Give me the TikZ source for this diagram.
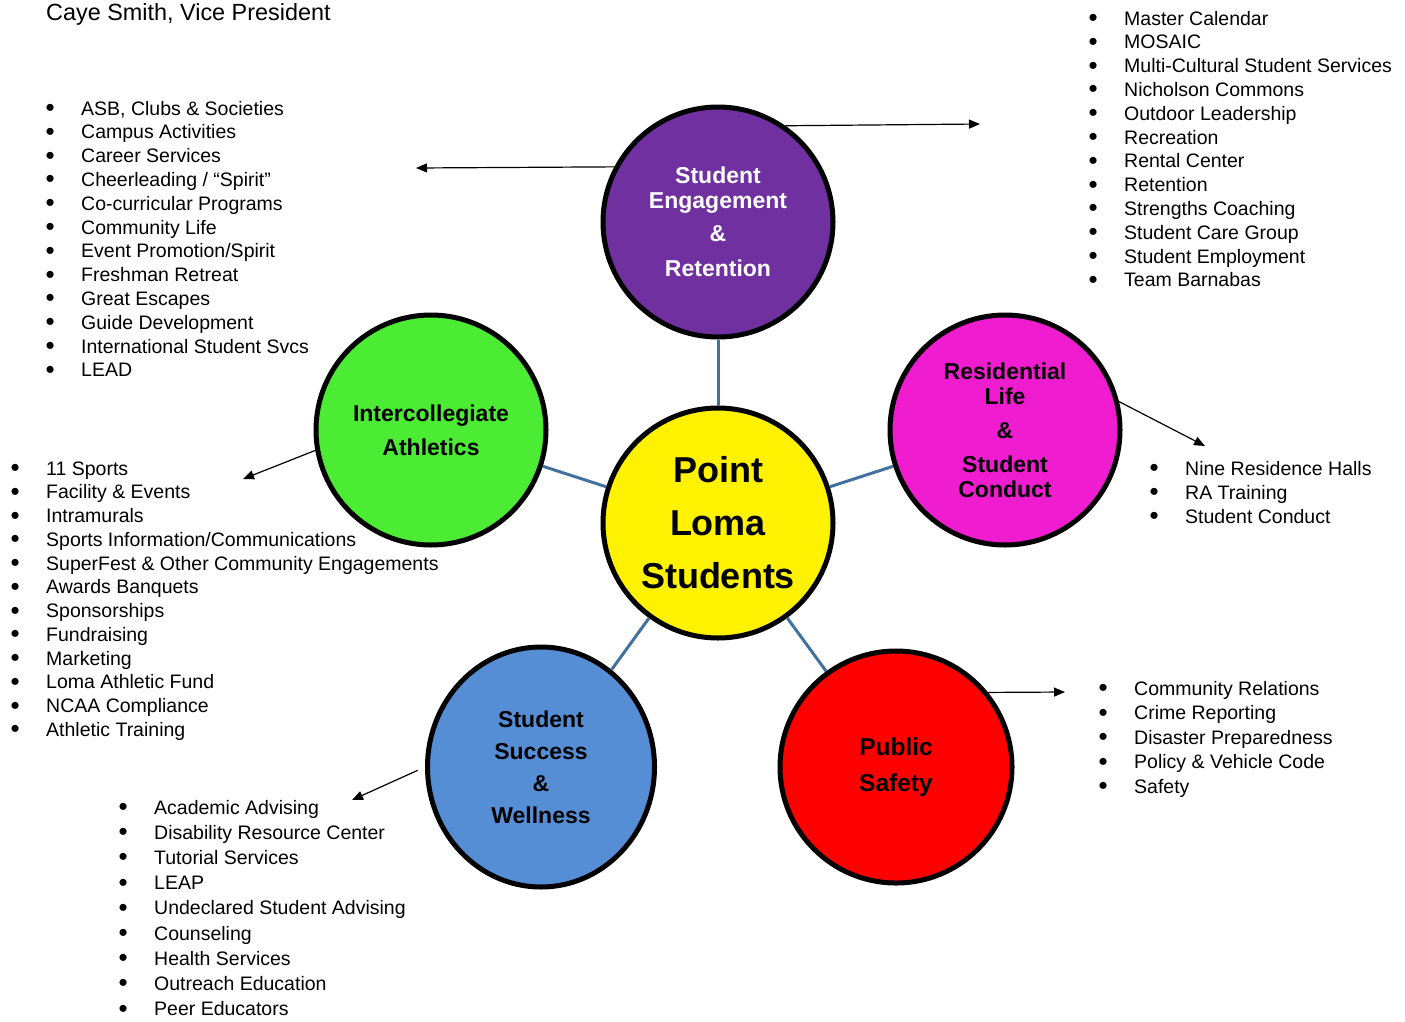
\documentclass[tikz,border=0pt]{standalone}
\usepackage{fontspec}
\setmainfont{Liberation Sans}
\usepackage{tikz}
\usetikzlibrary{arrows.meta,shapes.geometric}

\definecolor{serpurple}{RGB}{112,48,160}
\definecolor{athgreen}{RGB}{76,235,52}
\definecolor{resmagenta}{RGB}{240,28,208}
\definecolor{sucblue}{RGB}{85,142,213}
\definecolor{linkblue}{RGB}{65,113,156}

\newcommand{\bul}{\llap{\makebox[35.5pt][l]{\raisebox{-1.5pt}{\fontsize{26}{26}\selectfont •}}}}

\begin{document}
\begin{tikzpicture}[x=1pt,y=-1pt]
    \useasboundingbox (0,0) rectangle (1405,1021);

    \tikzstyle{unit} = [circle, draw=black, line width=5pt, minimum size=230pt, inner sep=0pt, align=center, font=\fontsize{23}{25}\selectfont\bfseries]
    \tikzstyle{link} = [draw=linkblue, line width=3pt]
    \tikzstyle{arr} = [-{Triangle[length=11pt,width=9pt]}, line width=1.2pt]
    \tikzstyle{item} = [anchor=base west, inner sep=0pt, font=\fontsize{19.5}{23}\selectfont]

    \node[anchor=base west, inner sep=0pt, font=\fontsize{23.4}{26}\selectfont] (vp) at (46,20) {Caye Smith, Vice President};

    % the six circles
    \node[unit, fill=yellow, font=\fontsize{36}{40}\selectfont\bfseries] (pls) at (718,523) {Point\\[13pt]Loma\\[13pt]Students};
    \node[unit, fill=serpurple, text=white] (ser) at (718,222) {Student\\Engagement\\[8pt]\&\\[10pt]Retention};
    \node[unit, fill=athgreen] (ath) at (431,430) {Intercollegiate\\[9pt]Athletics};
    \node[unit, fill=resmagenta] (res) at (1005,430) {Residential\\Life\\[9pt]\&\\[9pt]Student\\Conduct};
    \node[unit, shape=ellipse, fill=sucblue, minimum width=227pt, minimum height=240pt] (suc) at (541,767) {Student\\[7pt]Success\\[7pt]\&\\[7pt]Wellness};
    \node[unit, fill=red, minimum size=232pt, font=\fontsize{24.5}{27}\selectfont\bfseries] (pub) at (896,767) {Public\\[9pt]Safety};

    \foreach \o in {ser,ath,res,suc,pub}
        \draw[link] (pls) -- (\o);

    % arrows out to the lists
    \coordinate (serL) at (416,168);
    \coordinate (serR) at (980,124);
    \coordinate (athL) at (243,479);
    \coordinate (resR) at (1205,446);
    \coordinate (sucL) at (352,800);
    \coordinate (pubR) at (1065,692);

    \draw[arr] (ser.152) -- (serL);
    \draw[arr] (ser.55) -- (serR);
    \draw[arr] (ath.190) -- (athL);
    \draw[arr] (res.14) -- (resR);
    \draw[arr, shorten <=8pt] (suc.west) -- (sucL);
    \draw[arr] (pub.39) -- (pubR);

    % lists
    \foreach \t [count=\i from 0] in {{ASB, Clubs \& Societies}, Campus Activities, Career Services, Cheerleading / “Spirit”, Co-curricular Programs, Community Life, Event Promotion/Spirit, Freshman Retreat, Great Escapes, Guide Development, International Student Svcs, LEAD}
        \node[item] (serA\i) at (81,115+23.8*\i) {\bul\t};

    \foreach \t [count=\i from 0] in {Master Calendar, MOSAIC, Multi-Cultural Student Services, Nicholson Commons, Outdoor Leadership, Recreation, Rental Center, Retention, Strengths Coaching, Student Care Group, Student Employment, Team Barnabas}
        \node[item] (serB\i) at (1124,25+23.8*\i) {\bul\t};

    \foreach \t [count=\i from 0] in {11 Sports, Facility \& Events, Intramurals, Sports Information/Communications, SuperFest \& Other Community Engagements, Awards Banquets, Sponsorships, Fundraising, Marketing, Loma Athletic Fund, NCAA Compliance, Athletic Training}
        \node[item] (ath\i) at (46,475+23.75*\i) {\bul\t};

    \foreach \t [count=\i from 0] in {Nine Residence Halls, RA Training, Student Conduct}
        \node[item] (res\i) at (1185,475+24*\i) {\bul\t};

    \foreach \t [count=\i from 0] in {Community Relations, Crime Reporting, Disaster Preparedness, Policy \& Vehicle Code, Safety}
        \node[item] (pub\i) at (1134,695+24.5*\i) {\bul\t};

    \foreach \t [count=\i from 0] in {Academic Advising, Disability Resource Center, Tutorial Services, LEAP, Undeclared Student Advising, Counseling, Health Services, Outreach Education, Peer Educators}
        \node[item] (suc\i) at (154,814+25.2*\i) {\bul\t};
\end{tikzpicture}
\end{document}
